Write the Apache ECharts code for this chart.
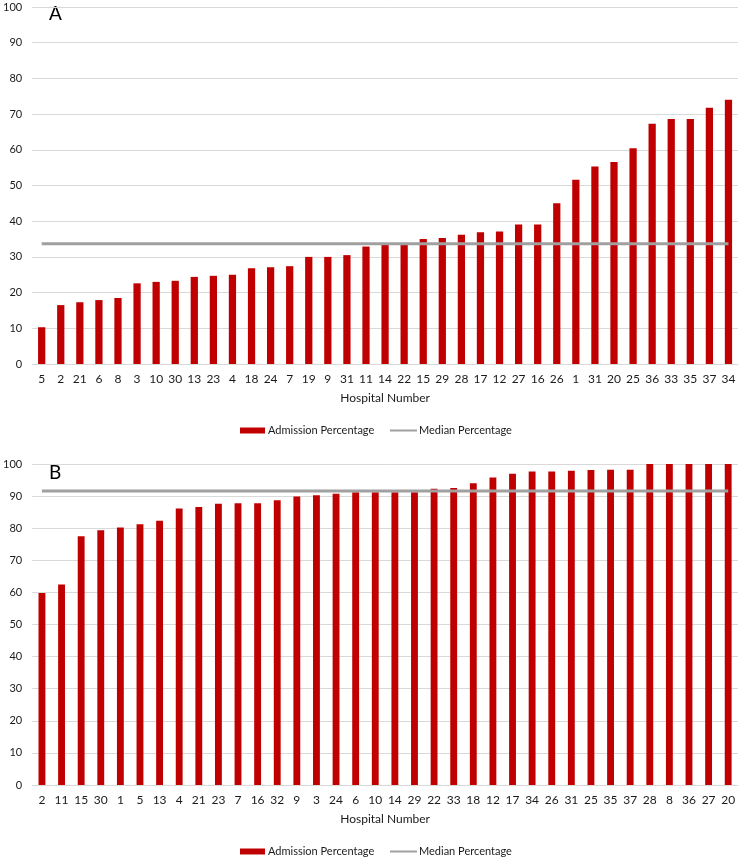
<!DOCTYPE html>
<html><head><meta charset="utf-8">
<script src="https://cdn.jsdelivr.net/npm/echarts@6/dist/echarts.min.js"></script>
<style>html,body{margin:0;padding:0;background:#fff}#c{width:742px;height:861px}</style>
</head><body><div id="c"></div>
<script>
const hospitalsA = ['5','2','21','6','8','3','10','30','13','23','4','18','24','7','19','9','31','11','14','22','15','29','28','17','12','27','16','26','1','31','20','25','36','33','35','37','34'];
const admissionA = [10.3,16.5,17.3,17.9,18.5,22.6,23.0,23.3,24.4,24.7,25.0,26.8,27.1,27.4,30.0,30.0,30.5,32.9,33.4,33.5,35.0,35.3,36.2,36.9,37.1,39.1,39.1,45.0,51.6,55.3,56.6,60.4,67.3,68.6,68.6,71.8,74.0];
const medianA = 33.7;
const hospitalsB = ['2','11','15','30','1','5','13','4','21','23','7','16','32','9','3','24','6','10','14','29','22','33','18','12','17','34','26','31','25','35','37','28','8','36','27','20'];
const admissionB = [59.8,62.5,77.5,79.4,80.2,81.2,82.3,86.1,86.6,87.6,87.8,87.8,88.7,89.9,90.3,90.7,91.2,91.2,91.2,91.2,92.3,92.5,94.0,95.8,97.0,97.7,97.7,97.9,98.1,98.2,98.2,100,100,100,100,100];
const medianB = 91.6;
const yTicks = [0,10,20,30,40,50,60,70,80,90,100];

const RED = '#C00000', GRAY = '#A0A0A0', TXT = '#1a1a1a', FONT = 'Lato';
const chart = echarts.init(document.getElementById('c'), null, {renderer:'canvas'});
function xAxis(idx, cats){
  return {type:'category', gridIndex:idx, data:cats, boundaryGap:true,
    axisLine:{show:true, lineStyle:{color:'#d9d9d9', width:1}}, axisTick:{show:false},
    axisLabel:{color:TXT, fontSize:12, fontFamily:FONT, margin:9, interval:0},
    name:'Hospital Number', nameLocation:'middle', nameGap:28,
    nameTextStyle:{color:TXT, fontSize:12, fontFamily:FONT}};
}
function yAxis(idx){
  return {type:'value', gridIndex:idx, min:yTicks[0], max:yTicks[yTicks.length-1], interval:10,
    axisLine:{show:false}, axisTick:{show:false},
    axisLabel:{color:TXT, fontSize:11, fontFamily:FONT, margin:10},
    splitLine:{lineStyle:{color:'#d9d9d9', width:1}}};
}
function legendBar(top){
  return {top:top, left:240, padding:0, itemWidth:25, itemHeight:6,
    textStyle:{color:TXT, fontSize:11, fontFamily:FONT, padding:[0,0,0,-2]},
    data:[{name:'Admission Percentage', icon:'rect'}]};
}
function legendLine(top){
  return {top:top, left:390, padding:0, itemWidth:27, itemHeight:2,
    textStyle:{color:TXT, fontSize:11, fontFamily:FONT, padding:[0,0,0,-3]},
    data:[{name:'Median Percentage', icon:'rect'}]};
}
chart.setOption({
  animation:false,
  textStyle:{fontFamily:FONT},
  grid:[{left:30, right:4, top:7, height:357},{left:30, right:4, top:464, height:321}],
  xAxis:[xAxis(0, hospitalsA), xAxis(1, hospitalsB)],
  yAxis:[yAxis(0), yAxis(1)],
  legend:[legendBar(425), legendLine(425), legendBar(846), legendLine(846)],
  graphic:[
    {type:'text', left:49, top:4, style:{text:'A', fontSize:19, fontFamily:FONT, fill:'#000'}},
    {type:'text', left:49, top:463, style:{text:'B', fontSize:19, fontFamily:FONT, fill:'#000'}}
  ],
  series:[
    {name:'Admission Percentage', type:'bar', xAxisIndex:0, yAxisIndex:0, data:admissionA, barWidth:'38%', itemStyle:{color:RED}},
    {name:'Median Percentage', type:'line', xAxisIndex:0, yAxisIndex:0, data:hospitalsA.map(()=>medianA), symbol:'none', lineStyle:{color:GRAY, width:3}, itemStyle:{color:GRAY}, z:5},
    {name:'Admission Percentage', type:'bar', xAxisIndex:1, yAxisIndex:1, data:admissionB, barWidth:'35%', itemStyle:{color:RED}},
    {name:'Median Percentage', type:'line', xAxisIndex:1, yAxisIndex:1, data:hospitalsB.map(()=>medianB), symbol:'none', lineStyle:{color:GRAY, width:3}, itemStyle:{color:GRAY}, z:5}
  ]
});
</script></body></html>
